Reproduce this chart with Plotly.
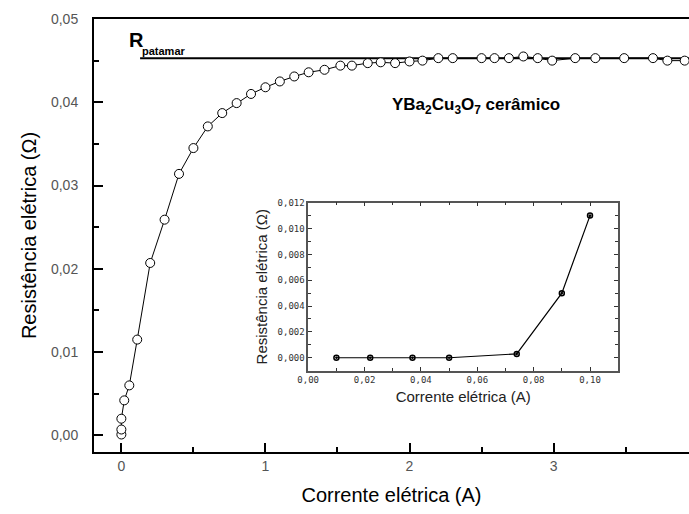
import plotly.graph_objects as go

# Main curve: current (A) vs resistance (Ohm)
corrente = [0.0, 0.0, 0.0, 0.02, 0.055, 0.11, 0.2, 0.3, 0.4, 0.5, 0.6, 0.7, 0.8, 0.9,
            1.0, 1.1, 1.2, 1.3, 1.41, 1.52, 1.6, 1.71, 1.8, 1.9, 2.0, 2.09, 2.2, 2.3,
            2.5, 2.59, 2.69, 2.79, 2.89, 2.99, 3.15, 3.29, 3.49, 3.69, 3.79, 3.91]
resistencia = [0.0001, 0.0007, 0.0020, 0.0042, 0.0060, 0.0115, 0.0207, 0.0259, 0.0314,
               0.0345, 0.0371, 0.0387, 0.0399, 0.0410, 0.0418, 0.0425, 0.0431, 0.0436,
               0.0439, 0.0444, 0.0444, 0.0447, 0.0448, 0.0447, 0.0449, 0.0450, 0.0453,
               0.0453, 0.0453, 0.0453, 0.0453, 0.0455, 0.0453, 0.0450, 0.0453, 0.0453,
               0.0453, 0.0453, 0.0450, 0.0450]

# Plateau line
patamar_x = [0.13, 4.0]
patamar_y = [0.0453, 0.0453]

# Inset data
ins_corrente = [0.01, 0.022, 0.037, 0.05, 0.074, 0.09, 0.10]
ins_resist = [0.0, 0.0, 0.0, 0.0, 0.0003, 0.0050, 0.0110]

FONT = "Liberation Sans, Arial, sans-serif"

fig = go.Figure()
fig.add_trace(go.Scatter(x=patamar_x, y=patamar_y, mode="lines",
                         line=dict(color="black", width=2), showlegend=False,
                         xaxis="x", yaxis="y"))
fig.add_trace(go.Scatter(x=corrente, y=resistencia, mode="lines+markers",
                         line=dict(color="black", width=1),
                         marker=dict(symbol="circle", size=9, color="white",
                                     line=dict(color="black", width=1)),
                         showlegend=False, xaxis="x", yaxis="y"))
fig.add_trace(go.Scatter(x=ins_corrente, y=ins_resist, mode="lines+markers",
                         line=dict(color="black", width=1.2),
                         marker=dict(symbol="circle-open-dot", size=5, color="black",
                                     line=dict(color="black", width=1.5)),
                         showlegend=False, xaxis="x2", yaxis="y2"))

fig.update_layout(
    width=689, height=514,
    margin=dict(l=94, r=0, t=19, b=62),
    paper_bgcolor="white", plot_bgcolor="white",
    separators=",.",
    font=dict(family=FONT, color="black"),
    xaxis=dict(
        domain=[0, 1], range=[-0.19, 3.94], dtick=1, tick0=0, tickformat="d",
        showline=True, linecolor="black", linewidth=2, mirror=True,
        ticks="inside", ticklen=9, tickwidth=2, tickcolor="black",
        minor=dict(dtick=0.5, tick0=0, ticks="inside", ticklen=5, tickwidth=1.5,
                   tickcolor="black", showgrid=False),
        showgrid=False, zeroline=False,
        tickfont=dict(family=FONT, size=14, color="#555"),
        title=dict(text="Corrente elétrica (A)", font=dict(family=FONT, size=20, color="black"),
                   standoff=15),
    ),
    yaxis=dict(
        domain=[0, 1], range=[-0.002, 0.05], dtick=0.01, tick0=0, tickformat=".2f",
        showline=True, linecolor="black", linewidth=2, mirror=False,
        ticks="inside", ticklen=9, tickwidth=2, tickcolor="black",
        minor=dict(dtick=0.005, tick0=0, ticks="inside", ticklen=5, tickwidth=1.5,
                   tickcolor="black", showgrid=False),
        showgrid=False, zeroline=False,
        tickfont=dict(family=FONT, size=14, color="#555"),
        ticklabelstandoff=11,
        title=dict(text="Resistência elétrica (Ω)", font=dict(family=FONT, size=20, color="black"),
                   standoff=9),
    ),
    xaxis2=dict(
        domain=[0.360, 0.881], anchor="y2", range=[0, 0.11], dtick=0.02, tick0=0,
        tickformat=".2f", showline=True, linecolor="#555", linewidth=1.5, mirror="ticks",
        ticks="inside", ticklen=4, tickwidth=1, tickcolor="#333",
        minor=dict(dtick=0.01, tick0=0, ticks="inside", ticklen=3, tickwidth=1,
                   tickcolor="#333", showgrid=False),
        showgrid=False, zeroline=False,
        tickfont=dict(family="DejaVu Sans Mono, monospace", size=9, color="#333"),
        title=dict(text="Corrente elétrica (A)", font=dict(family=FONT, size=15, color="#222"),
                   standoff=7),
    ),
    yaxis2=dict(
        domain=[0.1878, 0.5758], anchor="x2", range=[-0.001, 0.012], dtick=0.002, tick0=0,
        tickformat=".3f", showline=True, linecolor="#555", linewidth=1.5, mirror="ticks",
        ticks="inside", ticklen=4, tickwidth=1, tickcolor="#333",
        minor=dict(dtick=0.001, tick0=0, ticks="inside", ticklen=3, tickwidth=1,
                   tickcolor="#333", showgrid=False),
        showgrid=False, zeroline=False,
        tickfont=dict(family="DejaVu Sans Mono, monospace", size=9, color="#333"),
        title=dict(text="Resistência elétrica (Ω)", font=dict(family=FONT, size=15, color="#222"),
                   standoff=6),
    ),
    annotations=[
        dict(x=0.04, y=0.0475, xref="x", yref="y", text="<b>R</b>", showarrow=False,
             xanchor="left", yanchor="middle", font=dict(family=FONT, size=20, color="black")),
        dict(x=0.13, y=0.0462, xref="x", yref="y", text="<b>patamar</b>", showarrow=False,
             xanchor="left", yanchor="middle", font=dict(family=FONT, size=11, color="black")),
        dict(x=2.46, y=0.0396, xref="x", yref="y",
             text="<b>YBa<sub>2</sub>Cu<sub>3</sub>O<sub>7</sub> cerâmico</b>",
             showarrow=False, xanchor="center", yanchor="middle",
             font=dict(family=FONT, size=17, color="black")),
    ],
)

fig.write_html("out.html")
